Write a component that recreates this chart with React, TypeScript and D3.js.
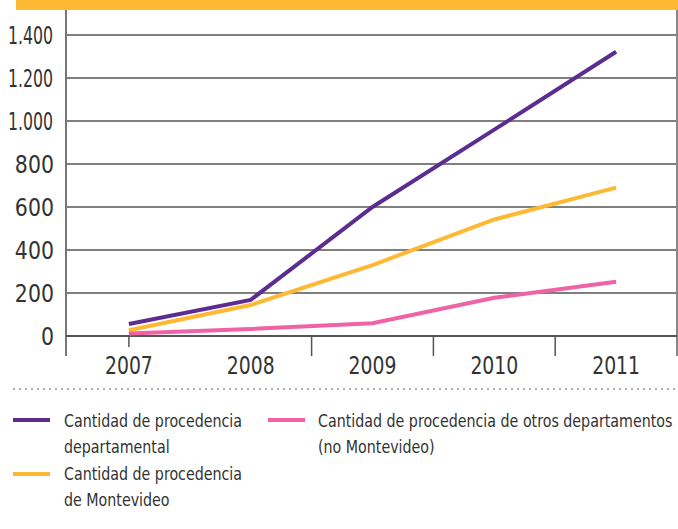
import React from "react";
import * as d3 from "d3";

const years = ["2007", "2008", "2009", "2010", "2011"];
const departamental = [56, 168, 600, 960, 1322];
const montevideo = [27, 144, 330, 542, 690];
const otros = [12, 33, 59, 178, 252];
const yTicks = [0, 200, 400, 600, 800, 1000, 1200, 1400];

const seriesList = [
  { name: "departamental", values: departamental, color: "#5c2d91" },
  { name: "montevideo", values: montevideo, color: "#fdb933" },
  { name: "otros", values: otros, color: "#ef62a6" },
];

const FONT = "'DejaVu Sans Condensed', 'DejaVu Sans', sans-serif";
const TEXT = "#333";

function T({ x, y, sx = 1, size, anchor = "start", children, len }: any) {
  return (
    <text
      transform={`translate(${x},${y}) scale(${sx},1)`}
      textAnchor={anchor}
      fontFamily={FONT}
      fontSize={size}
      fill={TEXT}
      {...(len ? { textLength: len, lengthAdjust: "spacingAndGlyphs" } : {})}
    >
      {children}
    </text>
  );
}

export default function App() {
  const W = 678;
  const H = 529;
  const x = d3.scaleBand<string>().domain(years).range([68, 677]).padding(0);
  const y = d3.scaleLinear().domain([0, 1400]).range([336, 35]);
  const cx = (d: string) => (x(d) as number) + x.bandwidth() / 2;

  const line = d3
    .line<number>()
    .x((_, i) => cx(years[i]))
    .y((v) => y(v));

  const fmt = (v: number) => d3.format(",")(v).replace(/,/g, ".");

  return (
    <svg width={W} height={H} style={{ position: "absolute", left: 0, top: 0 }}>
      <rect x={16} y={0} width={W - 16} height={10} fill="#fdb933" />
      {yTicks.slice(1).map((t) => (
        <line key={t} x1={66} x2={677} y1={y(t)} y2={y(t)} stroke="#555" strokeWidth={1.5} />
      ))}
      <line x1={66} x2={66} y1={10} y2={356} stroke="#777" strokeWidth={2} />
      <line x1={677} x2={677} y1={10} y2={356} stroke="#888" strokeWidth={2} />
      <line x1={66} x2={677} y1={y(0)} y2={y(0)} stroke="#555" strokeWidth={2} />
      <line x1={cx(years[0])} x2={cx(years[0])} y1={y(0)} y2={347} stroke="#555" strokeWidth={1.5} />
      {years.slice(2).map((yr) => (
        <line key={yr} x1={x(yr) as number} x2={x(yr) as number} y1={y(0)} y2={356} stroke="#555" strokeWidth={1.5} />
      ))}
      {yTicks.map((t) =>
        t >= 1000 ? (
          <text key={t} x={8} y={y(t) + 9} fontFamily={FONT} fontSize={24} fill={TEXT} textLength={45} lengthAdjust="spacingAndGlyphs">
            {fmt(t)}
          </text>
        ) : (
          <T key={t} x={54} y={y(t) + 9} sx={0.95} size={24} anchor="end">
            {fmt(t)}
          </T>
        )
      )}
      {years.map((yr) => (
        <T key={yr} x={cx(yr)} y={374} sx={0.87} size={24} anchor="middle">
          {yr}
        </T>
      ))}
      {seriesList.map((s) => (
        <path key={s.name} d={line(s.values) as string} fill="none" stroke={s.color} strokeWidth={4} />
      ))}
      <line x1={13} x2={678} y1={389} y2={389} stroke="#666" strokeWidth={1} strokeDasharray="2,4" />
      <line x1={13} x2={50} y1={420} y2={420} stroke="#5c2d91" strokeWidth={4} />
      <T x={64} y={427} sx={0.88} size={18}>Cantidad de procedencia</T>
      <T x={64} y={453} sx={0.88} size={18}>departamental</T>
      <line x1={13} x2={50} y1={474} y2={474} stroke="#fdb933" strokeWidth={4} />
      <T x={64} y={480} sx={0.88} size={18}>Cantidad de procedencia</T>
      <T x={64} y={506} sx={0.88} size={18}>de Montevideo</T>
      <line x1={268} x2={305} y1={420} y2={420} stroke="#ef62a6" strokeWidth={4} />
      <T x={318} y={427} sx={0.88} size={18}>Cantidad de procedencia de otros departamentos</T>
      <T x={318} y={453} sx={0.88} size={18}>(no Montevideo)</T>
    </svg>
  );
}
